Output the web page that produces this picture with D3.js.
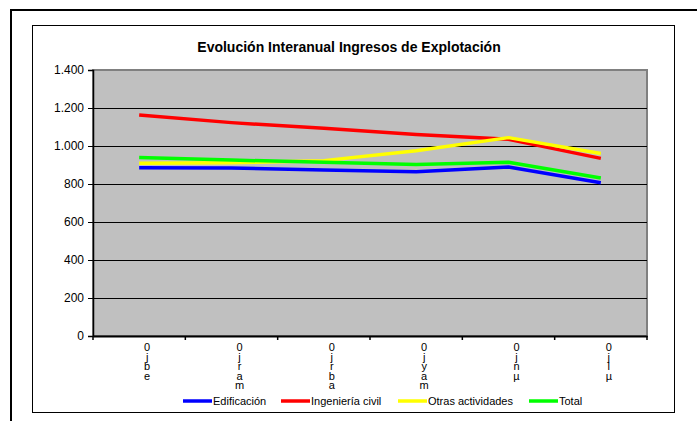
<!DOCTYPE html>
<html><head><meta charset="utf-8">
<script src="https://cdn.jsdelivr.net/npm/d3@7"></script>
<style>html,body{margin:0;padding:0;background:#fff;}svg{display:block;font-family:"Liberation Sans",Arial,sans-serif;}</style>
</head><body>
<svg id="c" width="697" height="421"></svg>
<script>
const categories = ["0jbe", "0jram", "0jrba", "0jyam", "0jnµ", "0jlµ"];
const seriesNames = ["Edificación", "Ingeniería civil", "Otras actividades", "Total"];
const edificacion = [886, 884, 874, 865, 889, 807];
const ingenieria = [1163, 1123, 1093, 1061, 1035, 935];
const otras = [909, 912, 923, 975, 1044, 961];
const total = [939, 926, 914, 903, 914, 832];
const colors = ["#0000FF", "#FF0000", "#FFFF00", "#00FF00"];
const yTicks = [0, 200, 400, 600, 800, 1000, 1200, 1400];
const title = "Evolución Interanual Ingresos de Explotación";

const series = [edificacion, ingenieria, otras, total];
const svg = d3.select("#c");
svg.append("rect").attr("width", 697).attr("height", 421).attr("fill", "#fff");
svg.append("path").attr("d", "M11,421 L11,10 L697,10").attr("fill", "none").attr("stroke", "#000").attr("stroke-width", 2);
svg.append("rect").attr("x", 32.5).attr("y", 25.5).attr("width", 642).attr("height", 387)
  .attr("fill", "#fff").attr("stroke", "#000").attr("stroke-width", 1);

const L = 93, R = 647, T = 70, B = 336;
const x = d3.scaleBand().domain(categories).range([L, R]);
const y = d3.scaleLinear().domain([0, 1400]).range([B, T]);

svg.append("rect").attr("x", L).attr("y", T).attr("width", R - L).attr("height", B - T)
  .attr("fill", "#C0C0C0").attr("stroke", "#808080").attr("stroke-width", 2);

svg.append("g").selectAll("line").data(yTicks.filter(d => d > 0 && d < 1400)).join("line")
  .attr("x1", L).attr("x2", R).attr("y1", d => Math.round(y(d)) + 0.5).attr("y2", d => Math.round(y(d)) + 0.5)
  .attr("stroke", "#000").attr("stroke-width", 1);

const ya = svg.append("g").attr("transform", `translate(${L},0)`)
  .call(d3.axisLeft(y).tickValues(yTicks).tickSize(5).tickPadding(4)
    .tickFormat(d => d3.format(",")(d).replace(/,/g, ".")));
ya.select(".domain").attr("stroke", "#000").attr("stroke-width", 1.5);
ya.selectAll(".tick line").attr("stroke", "#000");
ya.selectAll("text").attr("font-size", "12px").attr("fill", "#000").attr("font-family", "Liberation Sans, Arial, sans-serif");

const xa = svg.append("g").attr("transform", `translate(0,${B})`)
  .call(d3.axisBottom(x).tickSize(0).tickFormat(""));
xa.select(".domain").attr("stroke", "#000").attr("stroke-width", 2);
const bounds = categories.map(c => x(c)).concat([R]);
svg.append("g").selectAll("line").data(bounds).join("line")
  .attr("x1", d => d).attr("x2", d => d).attr("y1", B).attr("y2", B + 4)
  .attr("stroke", "#000").attr("stroke-width", 1.5);

// x labels: vertical upright text (one text per category)
svg.append("g").selectAll("text").data(categories).join("text")
  .attr("x", c => x(c) + x.bandwidth() / 2 + 8)
  .attr("y", 341)
  .attr("font-size", "11px").attr("fill", "#000")
  .style("writing-mode", "vertical-rl")
  .style("text-orientation", "upright")
  .style("letter-spacing", "-2.4px")
  .text(c => c);

const line = d3.line().x((d, i) => x(categories[i]) + x.bandwidth() / 2).y(d => y(d));
series.forEach((s, k) => {
  svg.append("path").datum(s).attr("d", line).attr("fill", "none")
    .attr("stroke", colors[k]).attr("stroke-width", 3.5).attr("stroke-linejoin", "round");
});

svg.append("text").attr("x", 349).attr("y", 52).attr("text-anchor", "middle")
  .attr("font-size", "14px").attr("font-weight", "bold").text(title);

const legX = [183, 281, 398, 529];
const lg = svg.append("g");
seriesNames.forEach((n, k) => {
  lg.append("line").attr("x1", legX[k]).attr("x2", legX[k] + 29).attr("y1", 401).attr("y2", 401)
    .attr("stroke", colors[k]).attr("stroke-width", 3.5);
  lg.append("text").attr("x", legX[k] + 30).attr("y", 405).attr("font-size", "11px").text(n);
});
</script>
</body></html>
